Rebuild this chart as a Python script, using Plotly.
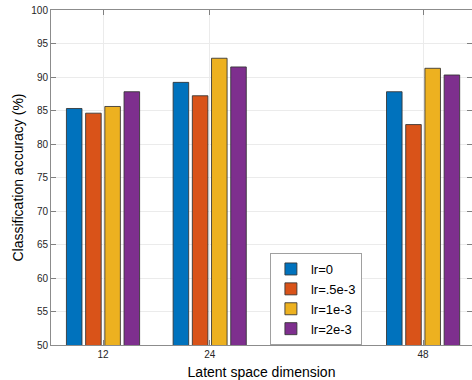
import plotly.graph_objects as go

categories = [12, 24, 48]
series_names = ["lr=0", "lr=.5e-3", "lr=1e-3", "lr=2e-3"]
values = {
    "lr=0":     [85.3, 89.2, 87.8],
    "lr=.5e-3": [84.6, 87.2, 82.9],
    "lr=1e-3":  [85.6, 92.8, 91.3],
    "lr=2e-3":  [87.8, 91.5, 90.3],
}
colors = ["#0072BD", "#D95319", "#EDB120", "#7E2F8E"]
y_ticks = [50, 55, 60, 65, 70, 75, 80, 85, 90, 95, 100]

fig = go.Figure()
for name, col in zip(series_names, colors):
    fig.add_trace(go.Bar(
        x=categories, y=values[name], name=name,
        marker=dict(color=col, line=dict(color="rgba(50,50,50,0.85)", width=1)),
    ))

font = "Liberation Sans, Arial, Helvetica, sans-serif"
fig.update_layout(
    width=472, height=380,
    margin=dict(l=51, r=0, t=10, b=35),
    paper_bgcolor="white", plot_bgcolor="white",
    barmode="group", bargap=0.28, bargroupgap=0.19,
    font=dict(family=font, color="#262626"),
    showlegend=True,
    legend=dict(
        x=0.52, y=0.2746, xanchor="left", yanchor="top",
        bgcolor="white", bordercolor="#a0a0a0", borderwidth=1,
        font=dict(size=13, family=font, color="#000000"),
        itemwidth=30, tracegroupgap=0,
    ),
    xaxis=dict(
        range=[6.15, 53.5], tickvals=categories, ticktext=[str(c) for c in categories],
        ticks="inside", ticklen=5, tickcolor="#808080",
        showline=True, linecolor="#8c8c8c", linewidth=1, mirror="ticks",
        showgrid=True, gridcolor="#ebebeb", gridwidth=1, zeroline=False,
        tickfont=dict(size=10, color="#262626"),
        title=dict(text="Latent space dimension", font=dict(size=14, color="#000000"), standoff=8),
        automargin=False,
    ),
    yaxis=dict(
        range=[50, 100], tickvals=y_ticks,
        ticks="inside", ticklen=5, tickcolor="#808080",
        showline=True, linecolor="#8c8c8c", linewidth=1, mirror="ticks",
        showgrid=True, gridcolor="#ebebeb", gridwidth=1, zeroline=False,
        tickfont=dict(size=10, color="#262626"),
        title=dict(text="Classification accuracy (%)", font=dict(size=14, color="#000000"), standoff=4),
        automargin=False,
    ),
)

fig.write_html("out.html")
